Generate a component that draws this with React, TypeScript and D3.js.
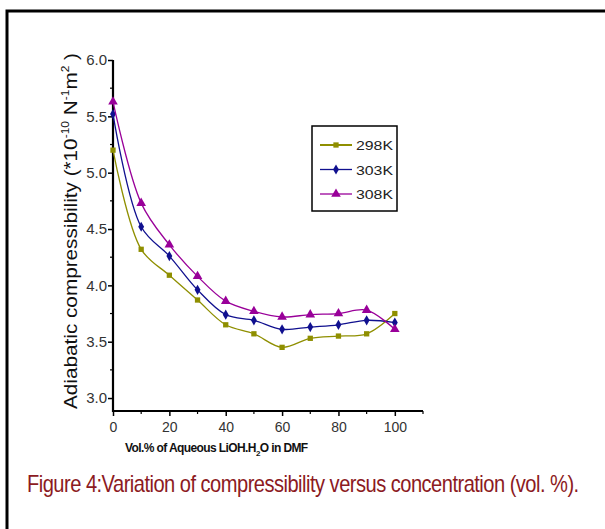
import React, { useEffect, useRef } from 'react';
import * as d3 from 'd3';

const W = 605, H = 529;
const X0 = 113, X1 = 423, Y_TOP = 60, Y_BOT = 411;

const conc = [0, 10, 20, 30, 40, 50, 60, 70, 80, 90, 100];
const k298 = [5.2, 4.32, 4.09, 3.87, 3.65, 3.57, 3.45, 3.53, 3.55, 3.57, 3.75];
const k303 = [5.52, 4.52, 4.26, 3.96, 3.74, 3.69, 3.61, 3.63, 3.65, 3.69, 3.67];
const k308 = [5.63, 4.73, 4.36, 4.08, 3.86, 3.77, 3.72, 3.74, 3.75, 3.78, 3.61];
const seriesNames = ['298K', '303K', '308K'];
const xTicks = [0, 20, 40, 60, 80, 100];
const yTicks = [3.0, 3.5, 4.0, 4.5, 5.0, 5.5, 6.0];

const COLORS = ['#8f8f00', '#10108f', '#990099'];
const SYMBOLS = [d3.symbolSquare, d3.symbolDiamond, d3.symbolTriangle];
const SYM_SIZE = [28, 30, 40];
const FONT = '"Liberation Sans", Arial, sans-serif';

export default function App() {
  const ref = useRef<SVGSVGElement>(null);

  useEffect(() => {
    const svg = d3.select(ref.current);
    svg.selectAll('*').remove();

    // outer frame
    svg.append('rect')
      .attr('x', 7).attr('y', 11).attr('width', 620).attr('height', 540)
      .attr('fill', 'none').attr('stroke', '#000').attr('stroke-width', 3);

    const x = d3.scaleLinear().domain([0, 110]).range([X0, X1]);
    const y = d3.scaleLinear().domain([2.885, 6.0]).range([Y_BOT, Y_TOP]);

    // y axis
    const yAxis = svg.append('g').attr('transform', `translate(${X0},0)`);
    yAxis.call(d3.axisLeft(y).tickValues(yTicks).tickFormat(d3.format('.1f')).tickSize(5).tickSizeOuter(0));
    yAxis.select('.domain').remove();
    yAxis.selectAll('line').attr('stroke', '#000').attr('stroke-width', 1.5);
    yAxis.selectAll('text').attr('font-family', FONT).attr('font-size', 15).attr('fill', '#333').attr('x', -6);
    yAxis.append('g').selectAll('line')
      .data(d3.range(3.25, 6, 0.5))
      .join('line')
      .attr('x1', -3).attr('x2', 0)
      .attr('y1', d => y(d)).attr('y2', d => y(d))
      .attr('stroke', '#000').attr('stroke-width', 1.2);

    // x axis
    const xAxis = svg.append('g').attr('transform', `translate(0,${Y_BOT})`);
    xAxis.call(d3.axisBottom(x).tickValues(xTicks).tickFormat(d3.format('d')).tickSize(5).tickSizeOuter(0));
    xAxis.select('.domain').remove();
    xAxis.selectAll('line').attr('stroke', '#000').attr('stroke-width', 1.5);
    xAxis.selectAll('text').attr('font-family', FONT).attr('font-size', 14).attr('fill', '#333').attr('dy', '0.95em');
    xAxis.append('g').selectAll('line')
      .data(d3.range(10, 111, 20))
      .join('line')
      .attr('x1', d => x(d)).attr('x2', d => x(d))
      .attr('y1', 0).attr('y2', 3)
      .attr('stroke', '#000').attr('stroke-width', 1.2);

    // axis lines
    svg.append('line').attr('x1', X0).attr('x2', X0).attr('y1', Y_TOP).attr('y2', Y_BOT + 1)
      .attr('stroke', '#000').attr('stroke-width', 2.2);
    svg.append('line').attr('x1', X0 - 1).attr('x2', X1).attr('y1', Y_BOT).attr('y2', Y_BOT)
      .attr('stroke', '#000').attr('stroke-width', 2.2);

    // series
    const all = [k298, k303, k308];
    const line = d3.line<number>()
      .x((_, i) => x(conc[i]))
      .y(d => y(d))
      .curve(d3.curveCatmullRom);

    all.forEach((vals, si) => {
      svg.append('path')
        .attr('d', line(vals))
        .attr('fill', 'none')
        .attr('stroke', COLORS[si])
        .attr('stroke-width', 1.3);
      svg.append('g').selectAll('path')
        .data(vals)
        .join('path')
        .attr('transform', (d, i) => `translate(${x(conc[i])},${y(d)})`)
        .attr('d', d3.symbol(SYMBOLS[si], SYM_SIZE[si]))
        .attr('fill', COLORS[si]);
    });

    // legend
    const lg = svg.append('g').attr('transform', 'translate(312,126)');
    lg.append('rect').attr('width', 85).attr('height', 85)
      .attr('fill', '#fff').attr('stroke', '#000').attr('stroke-width', 1.5);
    seriesNames.forEach((name, i) => {
      const ry = 19 + i * 24.5;
      lg.append('line').attr('x1', 8).attr('x2', 40).attr('y1', ry).attr('y2', ry)
        .attr('stroke', COLORS[i]).attr('stroke-width', i === 0 ? 2 : 1.3);
      lg.append('path').attr('transform', `translate(24,${ry})`)
        .attr('d', d3.symbol(SYMBOLS[i], SYM_SIZE[i])).attr('fill', COLORS[i]);
      lg.append('text').attr('x', 44).attr('y', ry + 5)
        .attr('font-family', FONT).attr('font-size', 13).attr('fill', '#222')
        .attr('textLength', 37).attr('lengthAdjust', 'spacingAndGlyphs')
        .text(name);
    });

    // y title
    const yt = svg.append('text')
      .attr('transform', 'translate(77,231) rotate(-90)')
      .attr('text-anchor', 'middle')
      .attr('font-family', FONT).attr('font-size', 19).attr('fill', '#111')
      .attr('textLength', 356).attr('lengthAdjust', 'spacingAndGlyphs');
    yt.append('tspan').text('Adiabatic compressibility (*10');
    yt.append('tspan').attr('font-size', 11).attr('dy', -8).text('-10');
    yt.append('tspan').attr('dy', 8).text(' N');
    yt.append('tspan').attr('font-size', 11).attr('dy', -8).text('-1');
    yt.append('tspan').attr('dy', 8).text('m');
    yt.append('tspan').attr('font-size', 11).attr('dy', -8).text('2');
    yt.append('tspan').attr('dy', 8).text(' )');

    // x title
    const xt = svg.append('text')
      .attr('x', 125).attr('y', 452)
      .attr('font-family', FONT).attr('font-size', 12).attr('font-weight', 'bold')
      .attr('fill', '#111').attr('letter-spacing', -0.6);
    xt.append('tspan').text('Vol.% of Aqueous LiOH.H');
    xt.append('tspan').attr('font-size', 8).attr('dy', 4).text('2');
    xt.append('tspan').attr('dy', -4).text('O in DMF');

    // caption, squeezed horizontally to the reference's condensed look
    const cap = svg.append('text')
      .attr('font-family', FONT).attr('font-size', 23).attr('fill', '#8c1a22')
      .attr('letter-spacing', -0.6)
      .text('Figure 4:Variation of compressibility versus concentration (vol. %).');
    const natural = (cap.node() as SVGTextElement).getComputedTextLength() || 650;
    cap.attr('transform', `translate(27,492) scale(${552 / natural},1)`);
  }, []);

  return (
    <div style={{ position: 'fixed', left: 0, top: 0, background: '#fff' }}>
      <svg ref={ref} width={W} height={H} style={{ display: 'block' }} />
    </div>
  );
}
